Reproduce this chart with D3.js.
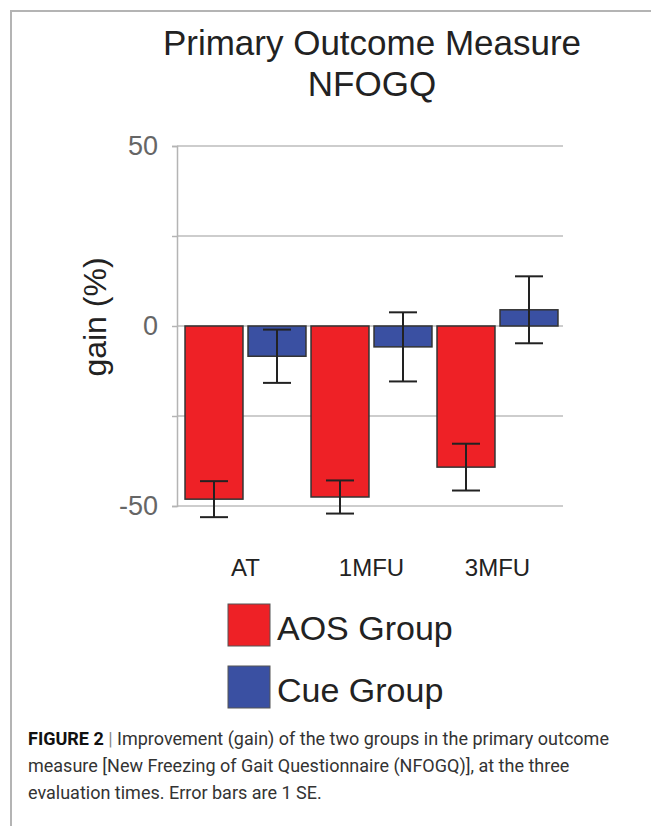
<!DOCTYPE html>
<html>
<head>
<meta charset="utf-8">
<script src="https://cdn.jsdelivr.net/npm/d3@7"></script>
<style>
  body { margin: 0; background: #fff; }
  svg { display: block; }
</style>
</head>
<body>
<svg id="chart" width="651" height="826"></svg>
<script>
// values
const times = ["AT", "1MFU", "3MFU"];
const groups = ["AOS Group", "Cue Group"];
const aosGain = [-48.1, -47.5, -39.2];
const aosSE = [5.0, 4.6, 6.5];
const cueGain = [-8.4, -5.8, 4.5];
const cueSE = [7.4, 9.6, 9.3];
const yTicks = [-50, -25, 0, 25, 50];
const captionLines = [
    "Improvement (gain) of the two groups in the primary outcome",
    "measure [New Freezing of Gait Questionnaire (NFOGQ)], at the three",
    "evaluation times. Error bars are 1 SE."
];

const colors = {"AOS Group": "#ee2126", "Cue Group": "#3a50a2"};
const chartFont = "'Liberation Sans', Arial, Helvetica, sans-serif";

const svg = d3.select("#chart");

// frame round the figure
svg.append("path")
    .attr("d", "M11,826 V11 H651")
    .attr("fill", "none")
    .attr("stroke", "#b4b4b4")
    .attr("stroke-width", 2);

const plot = {left: 177, right: 563, top: 146, bottom: 506};

const y = d3.scaleLinear().domain([-50, 50]).range([plot.bottom, plot.top]);
const x0 = d3.scaleBand().domain(times).range([182.5, 560.5]);
const x1 = d3.scaleBand().domain(groups).range([0, x0.bandwidth()])
    .paddingInner(0.08).paddingOuter(0.04);

// title
svg.append("text")
    .attr("x", 372).attr("y", 55)
    .attr("text-anchor", "middle")
    .attr("font-family", chartFont).attr("font-size", 35)
    .attr("fill", "#222")
    .text("Primary Outcome Measure");
svg.append("text")
    .attr("x", 372).attr("y", 96)
    .attr("text-anchor", "middle")
    .attr("font-family", chartFont).attr("font-size", 35)
    .attr("fill", "#222")
    .text("NFOGQ");

// gridlines
svg.append("g")
    .selectAll("line")
    .data(yTicks)
    .join("line")
    .attr("x1", plot.left).attr("x2", plot.right)
    .attr("y1", d => y(d)).attr("y2", d => y(d))
    .attr("stroke", "#bdbdbd")
    .attr("stroke-width", 1.5);

// y axis
const yAxis = svg.append("g")
    .attr("transform", "translate(" + plot.left + ",0)")
    .call(d3.axisLeft(y)
        .tickValues(yTicks)
        .tickSize(5)
        .tickPadding(14)
        .tickFormat(d => d % 50 === 0 ? String(d) : ""));
yAxis.select(".domain").attr("stroke", "#b4b4b4").attr("stroke-width", 1.5);
yAxis.selectAll(".tick line").attr("stroke", "#b4b4b4").attr("stroke-width", 1.5);
yAxis.selectAll(".tick text")
    .attr("font-family", chartFont).attr("font-size", 27)
    .attr("fill", "#666");
yAxis.attr("font-family", chartFont).attr("font-size", 27);

svg.append("text")
    .attr("transform", "translate(106,317) rotate(-90)")
    .attr("text-anchor", "middle")
    .attr("font-family", chartFont).attr("font-size", 32)
    .attr("fill", "#222")
    .text("gain (%)");

// bars
const rows = [];
times.forEach((t, i) => {
    rows.push({time: t, group: groups[0], value: aosGain[i], se: aosSE[i]});
    rows.push({time: t, group: groups[1], value: cueGain[i], se: cueSE[i]});
});

const bar = svg.append("g")
    .selectAll("g")
    .data(rows)
    .join("g")
    .attr("transform", d => "translate(" + (x0(d.time) + x1(d.group)) + ",0)");

bar.append("rect")
    .attr("x", 0)
    .attr("width", x1.bandwidth())
    .attr("y", d => y(Math.max(0, d.value)))
    .attr("height", d => Math.abs(y(d.value) - y(0)))
    .attr("fill", d => colors[d.group])
    .attr("stroke", "#333")
    .attr("stroke-width", 1.5);

// error bars
const cap = 14;
const err = bar.append("g")
    .attr("stroke", "#222")
    .attr("stroke-width", 2)
    .attr("transform", "translate(" + x1.bandwidth() / 2 + ",0)");
err.append("line")
    .attr("y1", d => y(d.value + d.se))
    .attr("y2", d => y(d.value - d.se));
err.append("line")
    .attr("x1", -cap).attr("x2", cap)
    .attr("y1", d => y(d.value + d.se)).attr("y2", d => y(d.value + d.se));
err.append("line")
    .attr("x1", -cap).attr("x2", cap)
    .attr("y1", d => y(d.value - d.se)).attr("y2", d => y(d.value - d.se));

// x labels
svg.append("g")
    .selectAll("text")
    .data(times)
    .join("text")
    .attr("x", d => x0(d) + x0.bandwidth() / 2)
    .attr("y", 576)
    .attr("text-anchor", "middle")
    .attr("font-family", chartFont).attr("font-size", 24)
    .attr("fill", "#222")
    .text(d => d);

// legend
const legend = svg.append("g")
    .selectAll("g")
    .data(groups)
    .join("g")
    .attr("transform", (d, i) => "translate(228," + (604 + i * 62) + ")");
legend.append("rect")
    .attr("width", 42).attr("height", 42)
    .attr("fill", d => colors[d])
    .attr("stroke", "#555")
    .attr("stroke-width", 1);
legend.append("text")
    .attr("x", 49).attr("y", 36)
    .attr("font-family", chartFont).attr("font-size", 34)
    .attr("fill", "#222")
    .text(d => d);

// caption
const capWidths = [589, 545, 297];
captionLines.forEach((line, i) => {
    const t = svg.append("text")
        .attr("x", 28)
        .attr("y", 745 + i * 27)
        .attr("font-family", "Roboto, 'Liberation Sans', sans-serif")
        .attr("font-size", 18)
        .attr("fill", "#333");
    if (i === 0) {
        t.append("tspan").attr("font-weight", "bold").attr("fill", "#111").text("FIGURE 2");
        t.append("tspan").attr("fill", "#888").text(" | ");
    }
    t.append("tspan").text(line);
    if (t.node().getComputedTextLength() > capWidths[i]) {
        t.attr("textLength", capWidths[i]).attr("lengthAdjust", "spacingAndGlyphs");
    }
});
</script>
</body>
</html>
